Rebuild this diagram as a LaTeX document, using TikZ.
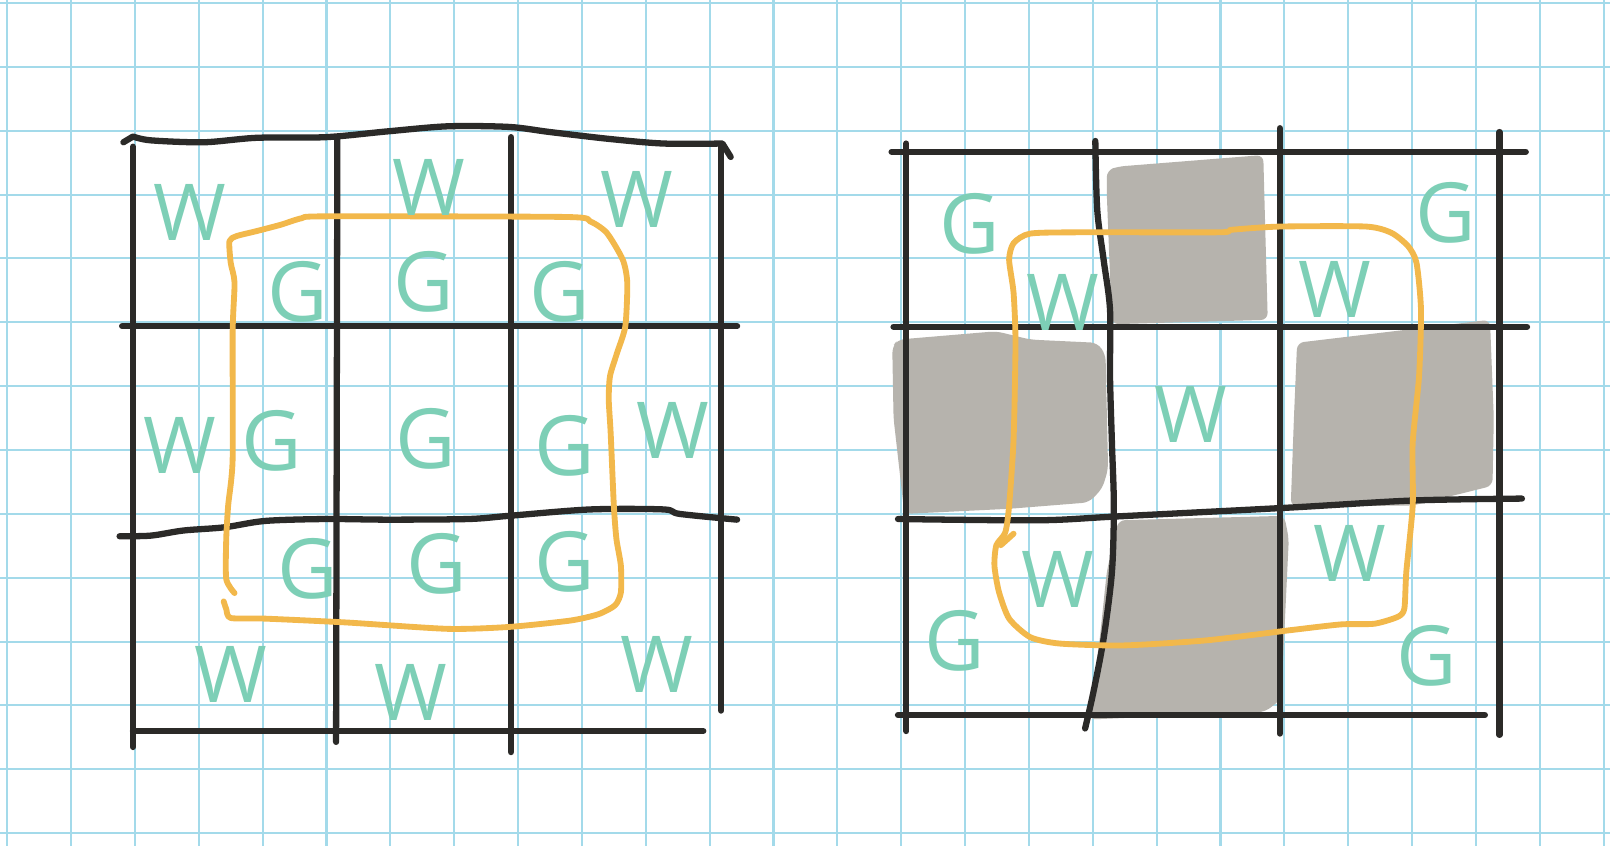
\documentclass[tikz,border=0pt]{standalone}
\usepackage{fontspec}
\setmainfont{Open Sans}
\definecolor{gridc}{HTML}{A3DAEA}
\definecolor{ink}{HTML}{2B2A28}
\definecolor{loopc}{HTML}{F2B84B}
\definecolor{letterc}{HTML}{7DCFB6}
\definecolor{shade}{HTML}{B6B3AD}
\tikzset{
 pen/.style={draw=ink, line width=2.8pt, line cap=round, line join=round},
 loopline/.style={draw=loopc, line width=2.6pt, line cap=round, line join=round},
 gridline/.style={draw=gridc, line width=0.9pt},
 hand/.style={text=letterc, font=\fontsize{35}{35}\selectfont, inner sep=0pt},
 handG/.style={hand, font=\fontsize{37}{37}\selectfont},
 block/.style={fill=shade, draw=none, rounded corners=3pt},
}
\begin{document}
\begin{tikzpicture}[x=1cm,y=-1cm]
\useasboundingbox (-0.113,-0.048) rectangle (25.10,13.2);
\fill[white] (-0.113,-0.048) rectangle (25.10,13.2);
\foreach \k in {0,...,25} \draw[gridline] (\k,-0.048) -- (\k,13.2);
\foreach \j in {0,...,13} \draw[gridline] (-0.113,\j) -- (25.10,\j);

% ---------------- left figure ----------------
\draw[pen] (1.82,2.18) -- plot[smooth] coordinates {(1.97,2.09) (2.25,2.15) (3.08,2.18) (3.91,2.11) (4.99,2.10) (5.95,2.01) (6.90,1.93) (7.86,1.94) (8.50,2.02) (9.45,2.13) (10.28,2.20) (11.20,2.20)} -- (11.33,2.41);
\draw[pen] (1.97,2.25) -- (1.97,11.65);
\draw[pen] (5.17,2.13) -- (5.15,11.57);
\draw[pen] (7.89,2.10) -- (7.89,11.73);
\draw[pen] (11.18,2.22) -- (11.18,11.08);
\draw[pen] (1.80,5.06) -- (11.43,5.06);
\draw[pen] plot[smooth] coordinates {(1.76,8.35) (2.25,8.34) (2.76,8.26) (3.40,8.21) (4.04,8.11) (4.99,8.08) (5.95,8.09) (7.22,8.08) (7.86,8.03) (9.13,7.93) (10.28,7.93) (10.53,8.0) (11.43,8.09)};
\draw[pen] (1.97,11.40) -- (10.90,11.40);

\draw[loopline] plot[smooth, tension=0.4] coordinates {(3.56,9.24) (3.43,9.02) (3.43,8.39) (3.46,7.87) (3.53,7.15) (3.53,5.16) (3.56,4.38) (3.50,4.07) (3.48,3.73) (3.59,3.65) (3.91,3.57) (4.29,3.47) (4.61,3.37) (4.99,3.34) (8.75,3.35) (9.13,3.42) (9.39,3.60) (9.64,4.02) (9.71,4.38) (9.68,5.06) (9.55,5.48) (9.44,5.84) (9.42,6.21) (9.45,6.73) (9.50,7.87) (9.54,8.39) (9.61,8.81) (9.61,9.23) (9.52,9.43) (9.26,9.57) (8.82,9.67) (7.86,9.77) (6.90,9.80) (5.31,9.70) (4.04,9.64) (3.50,9.63) (3.43,9.49) (3.39,9.37)};

\node[hand] (lw1) at (2.86,3.28) {W};
\node[hand] (lw2) at (6.61,2.89) {W};
\node[hand] (lw3) at (9.86,3.08) {W};
\node[handG] (lg1) at (4.55,4.53) {G};
\node[handG] (lg2) at (6.53,4.37) {G};
\node[handG] (lg3) at (8.65,4.53) {G};
\node[hand] (lw4) at (2.70,6.93) {W};
\node[handG] (lg4) at (4.15,6.85) {G};
\node[handG] (lg5) at (6.56,6.82) {G};
\node[handG] (lg6) at (8.73,6.93) {G};
\node[hand] (lw5) at (10.42,6.69) {W};
\node[handG] (lg7) at (4.71,8.86) {G};
\node[handG] (lg8) at (6.72,8.78) {G};
\node[handG] (lg9) at (8.73,8.75) {G};
\node[hand] (lw6) at (3.50,10.51) {W};
\node[hand] (lw7) at (6.32,10.79) {W};
\node[hand] (lw8) at (10.18,10.35) {W};

% ---------------- right figure ----------------
\fill[block] (17.22,2.62) -- (17.40,2.56) -- (19.67,2.38) -- (19.70,3.5) -- (19.74,4.96) -- (17.30,5.03) -- (17.22,3.0) -- cycle;
\fill[block] (13.86,5.38) -- (13.95,5.27) -- (15.49,5.14) -- (16.02,5.27) -- (17.07,5.32) -- (17.20,5.5) -- (17.24,7.3) -- (17.15,7.6) -- (16.94,7.82) -- (15.69,7.92) -- (14.05,8.0) -- (13.88,6.5) -- cycle;
\fill[block] (20.20,5.32) -- (23.22,4.96) -- (23.28,6.5) -- (23.26,7.56) -- (22.01,7.87) -- (20.10,7.88) -- (20.15,6.5) -- cycle;
\fill[block] (17.40,8.10) -- (20.0,8.03) -- (20.07,8.39) -- (19.95,10.9) -- (19.70,11.10) -- (16.94,11.22) -- (17.11,9.95) -- (17.22,8.9) -- cycle;

\draw[pen] (13.85,2.33) -- (23.78,2.33);
\draw[pen] (14.08,2.20) -- (14.08,11.40);
\draw[pen] plot[smooth] coordinates {(17.04,2.16) (17.07,3.24) (17.17,4.02) (17.27,4.80) (17.27,5.84) (17.30,6.89) (17.33,7.87) (17.30,8.91) (17.17,9.95) (17.01,10.79) (16.88,11.36)};
\draw[pen] (19.93,1.96) -- (19.93,11.44);
\draw[pen] (23.37,2.02) -- (23.37,11.46);
\draw[pen] (13.88,5.07) -- (23.80,5.07);
\draw[pen] plot[smooth] coordinates {(13.95,8.08) (16.15,8.10) (17.37,8.04) (20.10,7.90) (22.01,7.79) (23.72,7.76)};
\draw[pen] (13.95,11.15) -- (23.14,11.15);

\draw[loopline] plot[smooth cycle, tension=0.4] coordinates {(15.76,6.83) (15.79,5.32) (15.76,4.54) (15.69,4.02) (15.76,3.76) (16.02,3.61) (16.81,3.59) (18.98,3.59) (19.18,3.55) (19.93,3.50) (21.28,3.50) (21.68,3.60) (21.94,3.81) (22.07,4.07) (22.14,4.80) (22.11,5.84) (22.01,6.89) (22.01,7.87) (21.91,8.91) (21.88,9.48) (21.78,9.61) (21.41,9.72) (20.89,9.73) (20.10,9.82) (18.78,9.98) (17.47,10.06) (16.48,10.03) (16.02,9.93) (15.69,9.64) (15.53,9.22) (15.46,8.81) (15.49,8.49) (15.63,8.29) (15.69,7.87)};
\draw[loopline] (15.56,8.49) -- (15.76,8.31);

\node[handG] (rg1) at (15.08,3.45) {G};
\node[handG] (rg2) at (22.52,3.29) {G};
\node[hand] (rw1) at (16.53,4.69) {W};
\node[hand] (rw2) at (20.79,4.48) {W};
\node[hand] (rw3) at (18.54,6.45) {W};
\node[hand] (rw4) at (16.45,9.02) {W};
\node[hand] (rw5) at (21.03,8.62) {W};
\node[handG] (rg3) at (14.84,9.98) {G};
\node[handG] (rg4) at (22.23,10.22) {G};
\end{tikzpicture}
\end{document}
